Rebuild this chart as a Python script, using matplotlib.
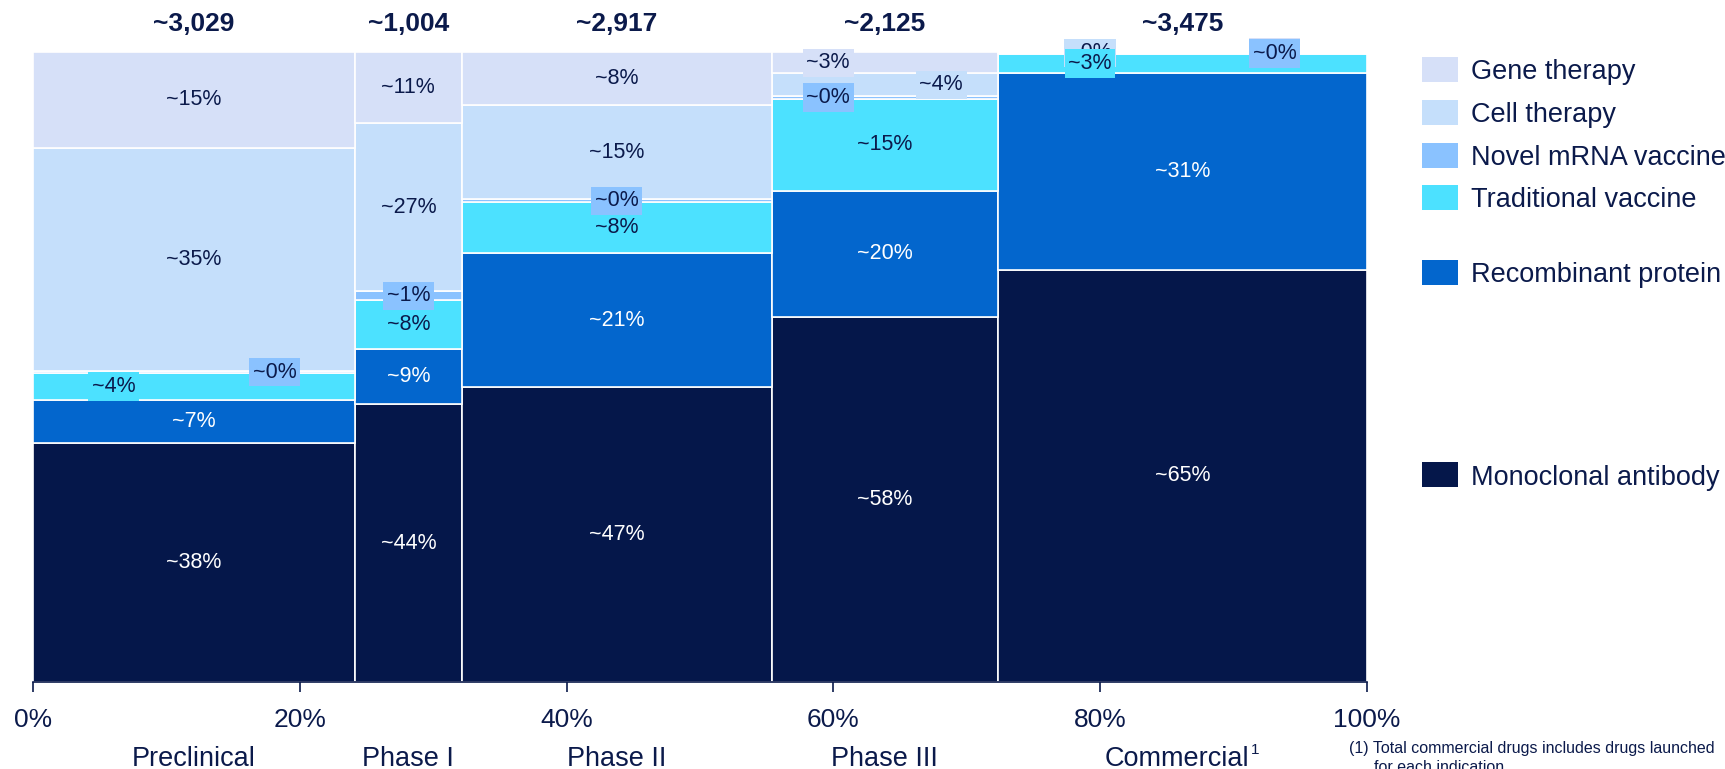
import matplotlib
matplotlib.use("Agg")
import matplotlib.pyplot as plt
from matplotlib.patches import Rectangle
from matplotlib.transforms import blended_transform_factory

plt.rcParams['font.family'] = ['Liberation Sans', 'DejaVu Sans']

# pipeline stages and number of drugs in each
stages = ["Preclinical", "Phase I", "Phase II", "Phase III", "Commercial"]
footnoted = [False, False, False, False, True]
totals = [3029, 1004, 2917, 2125, 3475]

# modality share (%) per stage, stacked bottom to top
modalities = ["Monoclonal antibody", "Recombinant protein", "Traditional vaccine",
              "Novel mRNA vaccine", "Cell therapy", "Gene therapy"]
mab = [37.9, 44.1, 46.8, 58.0, 65.4]
recombinant = [6.9, 8.8, 21.3, 20.0, 31.2]
trad_vaccine = [4.2, 7.7, 8.1, 14.6, 3.1]
mrna_vaccine = [0.4, 1.4, 0.4, 0.4, 0.1]
cell_therapy = [35.4, 26.7, 15.0, 3.6, 0.1]
gene_therapy = [15.2, 11.3, 8.4, 3.4, 0.1]
shares = [mab, recombinant, trad_vaccine, mrna_vaccine, cell_therapy, gene_therapy]

colors = ["#05174A", "#0366CD", "#4CE1FF", "#8AC2FF", "#C5DFFB", "#D6E0F8"]
navy = "#0B1A4B"
label_colors = ["white", "white", navy, navy, navy, navy]

fig = plt.figure(figsize=(17.25, 7.69), dpi=100)
W, H = 1725, 769
ax = fig.add_axes([33 / W, (H - 682) / H, 1334 / W, 630 / H])

grand = sum(totals)
widths = [t / grand * 100 for t in totals]
lefts = [sum(widths[:i]) for i in range(len(widths))]

bottoms = [0.0] * len(stages)
for k, vals in enumerate(shares):
    ax.bar(lefts, vals, width=widths, bottom=bottoms, align="edge",
           color=colors[k], edgecolor="white", linewidth=1.2, zorder=2)
    bottoms = [b + v for b, v in zip(bottoms, vals)]

# segment labels; thin segments get a coloured box and are spread across the column
z = 5
for i in range(len(stages)):
    small = [k for k in range(len(shares)) if shares[k][i] < 5]
    base = [sum(s[i] for s in shares[:k]) for k in range(len(shares))]
    for k in reversed(range(len(shares))):
        v = shares[k][i]
        if v <= 0:
            continue
        y = base[k] + v / 2
        if k in small:
            if len(small) == 1:
                frac = 0.5
            else:
                frac = 0.25 if small.index(k) % 2 == 0 else 0.75
            box = dict(boxstyle="square,pad=0.17", fc=colors[k], ec="none")
        else:
            frac = 0.5
            box = None
        ax.text(lefts[i] + widths[i] * frac, y, f"~{v:.0f}%", ha="center", va="center",
                fontsize=15.5, color=label_colors[k], bbox=box, zorder=z)
        z += 1

ax.set_xlim(0, 100)
ax.set_ylim(0, 100)
ax.set_yticks([])
for side in ["left", "right", "top"]:
    ax.spines[side].set_visible(False)
ax.spines["bottom"].set_color(navy)
ax.spines["bottom"].set_linewidth(1.2)
ax.set_xticks([0, 20, 40, 60, 80, 100])
ax.set_xticklabels(["0%", "20%", "40%", "60%", "80%", "100%"])
ax.tick_params(axis="x", length=7, width=1.2, color=navy, pad=12,
               labelsize=19, labelcolor=navy)

# totals on top, stage names underneath
trans = blended_transform_factory(ax.transData, fig.transFigure)
for i in range(len(stages)):
    cx = lefts[i] + widths[i] / 2
    ax.text(cx, 1 - 24 / H, f"~{totals[i]:,}", transform=trans, ha="center",
            va="center", fontsize=19, fontweight="bold", color=navy)
    name = ax.annotate(stages[i], xy=(cx, 1 - 759 / H), xycoords=trans,
                       xytext=(-4 if footnoted[i] else 0, 0), textcoords="offset points",
                       ha="center", va="center", fontsize=19.5, color=navy)
    if footnoted[i]:
        ax.annotate("1", xy=(1, 1), xycoords=name, xytext=(1, 2),
                    textcoords="offset points", ha="left", va="top",
                    fontsize=11, color=navy)

# legend, top to bottom
legend_y = [69, 112, 155, 197, 272, 475]
for k, yc in zip(reversed(range(len(modalities))), legend_y):
    fig.patches.append(Rectangle((1422 / W, 1 - (yc + 12.5) / H), 36 / W, 25 / H,
                                 transform=fig.transFigure, facecolor=colors[k],
                                 edgecolor="none"))
    fig.text(1471 / W, 1 - (yc + 3) / H, modalities[k], ha="left", va="center",
             fontsize=19.5, color=navy)

fig.text(1349 / W, 1 - 748 / H, "(1) Total commercial drugs includes drugs launched",
         ha="left", va="center", fontsize=11.5, color=navy)
fig.text(1374 / W, 1 - 768 / H, "for each indication",
         ha="left", va="center", fontsize=11.5, color=navy)

fig.savefig("out.png", dpi=100, facecolor="white")
